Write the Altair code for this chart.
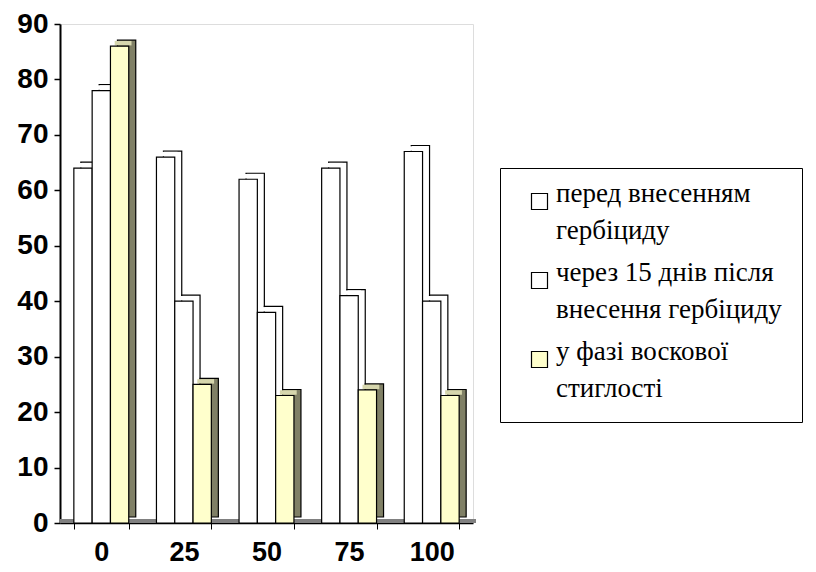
import altair as alt
import pandas as pd

categories = ["0", "25", "50", "75", "100"]
legend_lines = [
    ["перед внесенням", "гербіциду"],
    ["через 15 днів після", "внесення гербіциду"],
    ["у фазі воскової", "стиглості"],
]
series = [" ".join(l) for l in legend_lines]
before = [64, 66, 62, 64, 67]
after15 = [78, 40, 38, 41, 40]
wax = [86, 25, 23, 24, 23]
values = [before, after15, wax]

front_colors = ["#FFFFFF", "#FFFFFF", "#FFFFCC"]
side_colors = ["#FFFFFF", "#FFFFFF", "#808066"]
top_colors = ["#FFFFFF", "#FFFFFF", "#D6D6AD"]

rows = []
for si, s in enumerate(series):
    for ci, c in enumerate(categories):
        rows.append({"category": c, "series": s, "value": values[si][ci]})
df = pd.DataFrame(rows)

label_expr = " : ".join(
    "datum.label == '%s' ? [%s]" % (s, ", ".join("'%s'" % p for p in l))
    for s, l in zip(series, legend_lines)
) + " : datum.label"

BAR_W = 18.3
DX, DY = 7, -6
SERIF = "Liberation Serif, Times New Roman, serif"
SANS = "Liberation Sans"

x = alt.X("category:N", sort=categories,
          scale=alt.Scale(paddingInner=0.334, paddingOuter=0.167),
          axis=alt.Axis(title=None, labelAngle=0, tickBand="extent", tickSize=6,
                        tickColor="black", domainColor="black", domainWidth=1.5,
                        labelFont=SANS, labelFontWeight="bold",
                        labelFontSize=27, labelColor="black", labelPadding=10))
y = alt.Y("value:Q", scale=alt.Scale(domain=[0, 90], nice=False),
          axis=alt.Axis(title=None, values=list(range(0, 91, 10)), grid=False,
                        domainColor="black", domainWidth=2, tickColor="black",
                        tickSize=6, tickWidth=1.5, labelFont=SANS,
                        labelFontWeight="bold", labelFontSize=28,
                        labelColor="black", labelPadding=6))

fill_enc = alt.Fill(
    "series:N", sort=series,
    scale=alt.Scale(domain=series, range=front_colors),
    legend=alt.Legend(title=None, orient="none", legendX=440, legendY=144,
                      strokeColor="black", padding=20,
                      symbolType="square", symbolSize=256,
                      symbolStrokeColor="black", symbolStrokeWidth=1.2,
                      symbolOffset=6, labelFont=SERIF,
                      labelFontSize=27, labelColor="black", labelOffset=3,
                      labelLimit=400, labelBaseline="alphabetic",
                      labelExpr=label_expr, rowPadding=14))

base = alt.Chart(df)

layers = [base.mark_rule(color="#808080", strokeWidth=4, xOffset=3, yOffset=-2).encode(
    y=alt.datum(0))]

for i, s in enumerate(series):
    off = (i - 1) * BAR_W
    sub = base.transform_filter(alt.datum.series == s)
    layers.append(sub.mark_bar(width=BAR_W, xOffset=off + DX, yOffset=DY,
                               stroke="black", strokeWidth=1.2,
                               fill=side_colors[i]).encode(x=x, y=y))
    layers.append(sub.mark_tick(size=BAR_W - 1.5, thickness=4.5,
                                xOffset=off + DX / 2, yOffset=DY / 2,
                                color=top_colors[i], opacity=1).encode(x=x, y=y))
    layers.append(sub.mark_bar(width=BAR_W, xOffset=off, stroke="black",
                               strokeWidth=1.2).encode(x=x, y=y, fill=fill_enc))

chart = alt.layer(*layers).properties(
    width=413, height=499, autosize=alt.AutoSizeParams(type="none"),
    padding={"left": 52, "top": 16, "right": 330, "bottom": 41},
).configure_view(stroke=None).configure(
    style={"guide-label": {"lineHeight": 37}}
)

chart.save("out.html", embed_options={"renderer": "svg", "actions": False})
